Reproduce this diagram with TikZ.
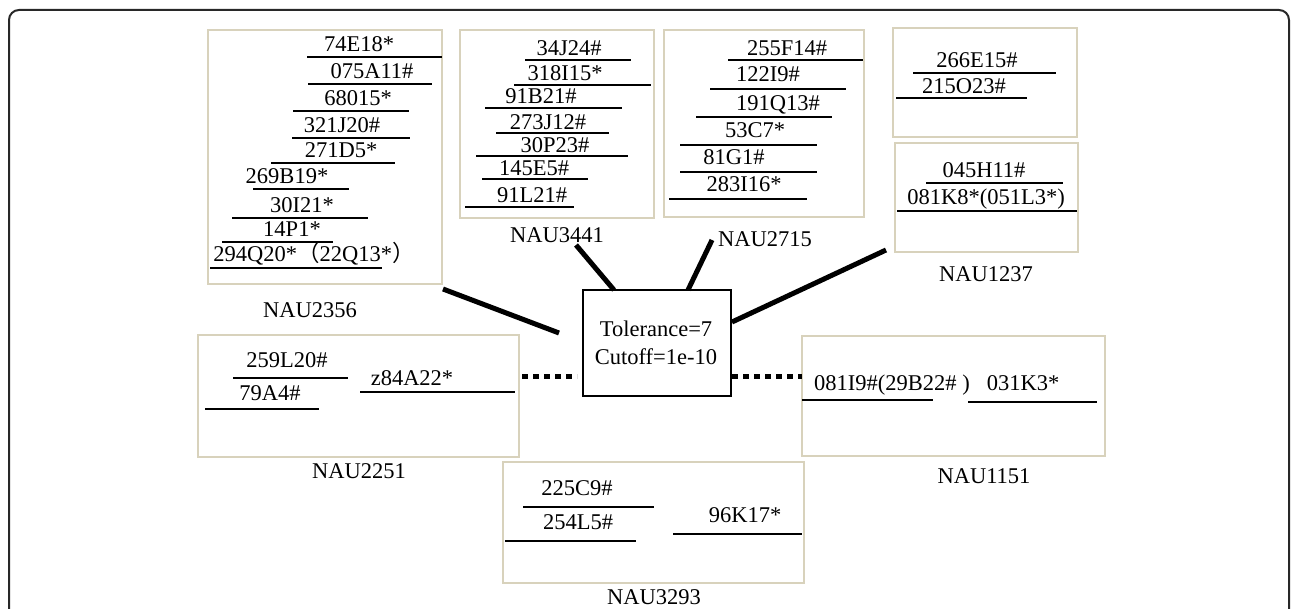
\documentclass[tikz,border=0pt]{standalone}
\usepackage{fontspec}
\setmainfont{Liberation Serif}
\newfontfamily\cjkfont{Noto Sans CJK SC}
\usetikzlibrary{fit}
\definecolor{beige}{RGB}{216,210,188}
\definecolor{framegray}{RGB}{40,40,40}
\tikzset{
  lbl/.style={inner sep=0pt, anchor=base, font=\fontsize{22.5}{27}\selectfont},
  ul/.style={line width=2.8pt},
  box/.style={draw=beige, line width=2.5pt, inner sep=0pt},
  conn/.style={line width=5pt},
  dotconn/.style={line width=5pt, dash pattern=on 6pt off 5pt},
  hubbox/.style={draw=black, line width=2pt, inner sep=0pt},
}
\newcommand\gentry[7]{\node[lbl] (#1) at (#2,#3) {#4}; \draw[ul] (#5,#7) -- (#6,#7);}
\newcommand\bx[5]{\node[box, fit={(#2,#3) (#4,#5)}] (#1) {};}
\begin{document}
\begin{tikzpicture}[x=1pt,y=-1pt]
\useasboundingbox (0,0) rectangle (1292,609);
% outer frame
\draw[line width=2pt, framegray, rounded corners=10pt] (9,650) -- (9,10) -- (1289,10) -- (1289,650);

% boxes
\bx{b2356}{208}{30}{442}{284}
\bx{b3441}{460}{30}{654}{218}
\bx{b2715}{664}{30}{864}{217}
\bx{b1237a}{893}{28}{1077}{137}
\bx{b1237b}{895}{143}{1078}{252}
\bx{b2251}{198}{335}{519}{457}
\bx{b1151}{802}{336}{1105}{456}
\bx{b3293}{503}{462}{804}{583}
\node[hubbox, fit={(583,290) (731,396)}] (hub) {};
\node[lbl] (tol) at (656,337) {Tolerance=7};
\node[lbl] (cut) at (656,364) {Cutoff=1e-10};

% NAU2356
\gentry{g1}{359}{52}{74E18*}{307}{442}{57}
\gentry{g2}{372}{79}{075A11\#}{308}{432}{84}
\gentry{g3}{358}{106}{68015*}{293}{409}{111}
\gentry{g4}{342}{133}{321J20\#}{292}{410}{138}
\gentry{g5}{341}{158}{271D5*}{271}{395}{163}
\gentry{g6}{287}{184}{269B19*}{253}{349}{189}
\gentry{g7}{302}{213}{30I21*}{232}{368}{218}
\gentry{g8}{292}{237}{14P1*}{222}{333}{242}
\gentry{g9}{314}{262}{294Q20*{\cjkfont （}22Q13*{\cjkfont ）}}{210}{382}{268}
\node[lbl] (l2356) at (310,317) {NAU2356};

% NAU3441
\gentry{h1}{569}{56}{34J24\#}{525}{631}{60}
\gentry{h2}{565}{81}{318I15*}{514}{651}{85}
\gentry{h3}{541}{104}{91B21\#}{485}{622}{108}
\gentry{h4}{548}{130}{273J12\#}{496}{609}{133}
\gentry{h5}{555}{153}{30P23\#}{476}{628}{156}
\gentry{h6}{534}{176}{145E5\#}{482}{588}{179}
\gentry{h7}{532}{203}{91L21\#}{465}{574}{207}
\node[lbl] (l3441) at (557,243) {NAU3441};

% NAU2715
\gentry{k1}{787}{56}{255F14\#}{728}{863}{60}
\gentry{k2}{768}{82}{122I9\#}{710}{846}{89}
\gentry{k3}{778}{111}{191Q13\#}{696}{832}{117}
\gentry{k4}{755}{138}{53C7*}{680}{817}{145}
\gentry{k5}{734}{165}{81G1\#}{680}{817}{172}
\gentry{k6}{744}{192}{283I16*}{669}{807}{199}
\node[lbl] (l2715) at (765,247) {NAU2715};

% NAU1237
\gentry{m1}{977}{68}{266E15\#}{913}{1056}{73}
\gentry{m2}{964}{94}{215O23\#}{896}{1027}{98}
\gentry{m3}{984}{178}{045H11\#}{926}{1063}{183}
\gentry{m4}{986}{205}{081K8*(051L3*)}{897}{1077}{211}
\node[lbl] (l1237) at (986,282) {NAU1237};

% NAU2251
\gentry{p1}{287}{367}{259L20\#}{233}{348}{378}
\gentry{p2}{270}{400}{79A4\#}{205}{319}{409}
\gentry{p3}{412}{385}{z84A22*}{360}{515}{392}
\node[lbl] (l2251) at (359,478) {NAU2251};

% NAU1151
\gentry{q1}{892}{390}{081I9\#(29B22\# )}{802}{933}{400}
\gentry{q2}{1023}{390}{031K3*}{968}{1097}{402}
\node[lbl] (l1151) at (984,483) {NAU1151};

% NAU3293
\gentry{r1}{577}{495}{225C9\#}{523}{654}{507}
\gentry{r2}{578}{529}{254L5\#}{505}{636}{541}
\gentry{r3}{745}{522}{96K17*}{673}{802}{534}
\node[lbl] (l3293) at (654,604) {NAU3293};

% connectors
\coordinate (c1a) at (443,289); \coordinate (c1b) at (559,333);
\coordinate (c2a) at (576,245); \coordinate (c2b) at (614,290);
\coordinate (c3a) at (712,240); \coordinate (c3b) at (688,290);
\coordinate (c4a) at (886,250); \coordinate (c4b) at (732,322);
\coordinate (d1a) at (522,376); \coordinate (d1b) at (577,376);
\coordinate (d2a) at (732,376); \coordinate (d2b) at (802,376);
\draw[conn] (c1a) -- (c1b);
\draw[conn] (c2a) -- (c2b);
\draw[conn] (c3a) -- (c3b);
\draw[conn] (c4a) -- (c4b);
\draw[dotconn] (d1a) -- (d1b);
\draw[dotconn] (d2a) -- (d2b);
\end{tikzpicture}
\end{document}
